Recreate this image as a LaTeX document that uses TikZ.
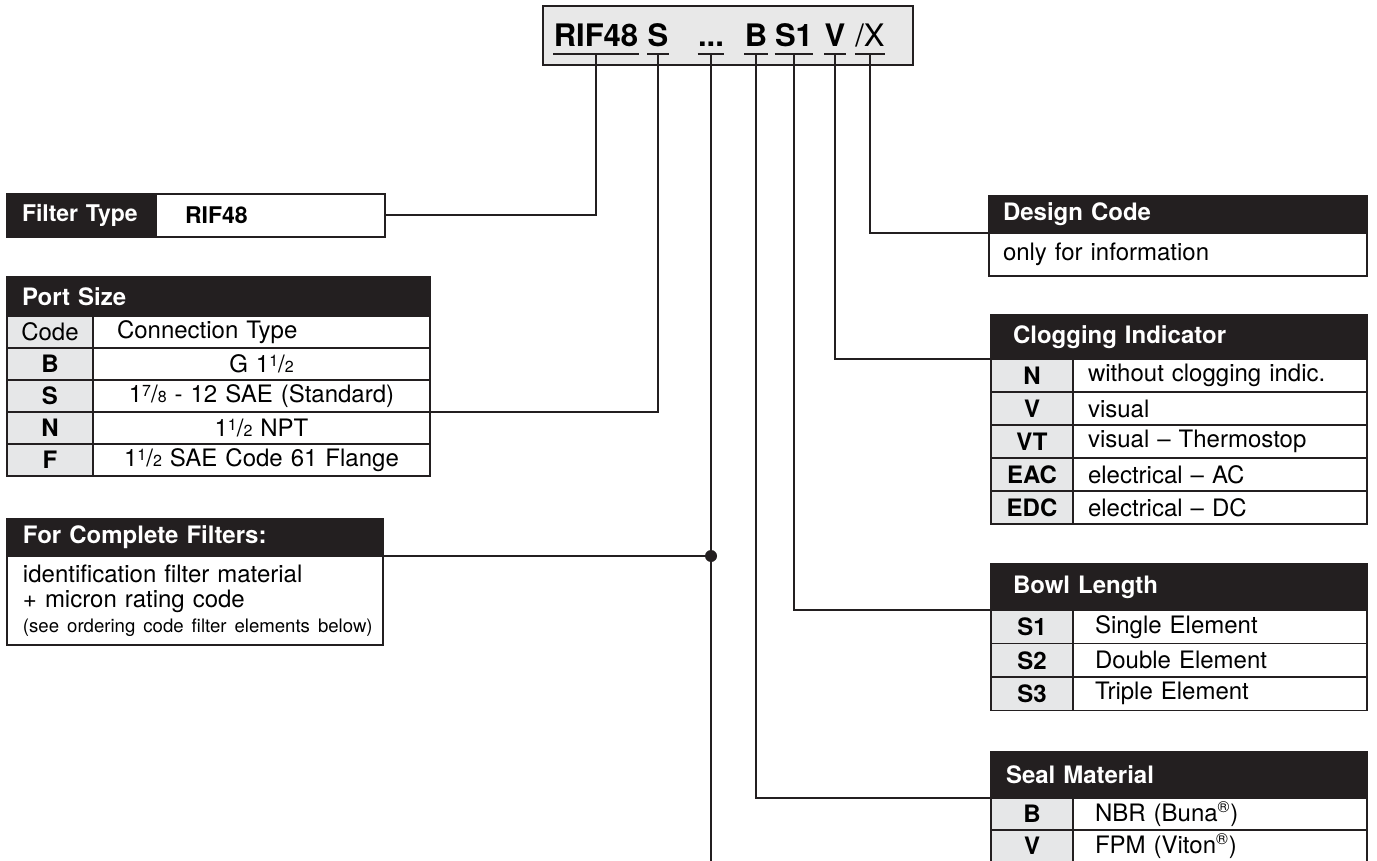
\documentclass[tikz,border=0pt]{standalone}
\usepackage{fontspec}
\setmainfont{TeX Gyre Heros}
\usetikzlibrary{positioning,calc}
\definecolor{inkdark}{HTML}{231F20}
\definecolor{cellgray}{HTML}{E6E7E8}
\definecolor{boxgray}{HTML}{E8E8E8}
\newcommand{\pfrac}[2]{{\fontsize{8}{9}\selectfont\raisebox{0.75ex}{#1}}/{\fontsize{8}{9}\selectfont#2}}
\tikzset{
	head/.style={
		rectangle,
		fill=inkdark,
		draw=inkdark,
		line width=0.9pt,
		text=white,
		font=\bfseries\fontsize{12}{14}\selectfont,
		anchor=north west,
		outer sep=0pt,
		inner xsep=#1,
		inner ysep=0pt,
		align=left,
	},
	head/.default=7.5pt,
	codecell/.style={
		rectangle,
		fill=cellgray,
		draw=inkdark,
		line width=0.9pt,
		font=\bfseries\fontsize{12}{14}\selectfont,
		anchor=north west,
		outer sep=0pt,
		inner sep=0pt,
	},
	txtcell/.style={
		rectangle,
		fill=white,
		draw=inkdark,
		line width=0.9pt,
		font=\fontsize{12}{14}\selectfont,
		anchor=north west,
		outer sep=0pt,
		inner xsep=#1,
		inner ysep=0pt,
		align=left,
	},
	txtcell/.default=7.5pt,
	codechar/.style={
		font=\bfseries\fontsize{15.5}{18}\selectfont,
		inner sep=0pt,
		anchor=base,
	},
	link/.style={
		draw=inkdark,
		line width=1pt,
	}
}
\begin{document}
\begin{tikzpicture}[x=0.5pt,y=-0.5pt]
\useasboundingbox (0,0) rectangle (1377,861);

% ordering code
\node[rectangle,draw=inkdark,fill=boxgray,line width=1pt,anchor=north west,
  outer sep=0pt,inner sep=0pt,minimum width=185pt,minimum height=29.5pt] (codebox) at (543,6) {};
\node[codechar] (cRIF) at (596,47) {RIF48};
\node[codechar] (cS) at (658,47) {S};
\node[codechar] (cDots) at (711,47) {...};
\node[codechar] (cB) at (756,47) {B};
\node[codechar] (cSi) at (794,47) {S1};
\node[codechar] (cV) at (835,47) {V};
\node[codechar,font=\fontsize{15.5}{18}\selectfont] (cX) at (870,47) {/X};
\foreach \c in {cRIF,cS,cDots,cB,cSi,cV,cX}
  \draw[link] ([yshift=-3.5pt]\c.base west) -- coordinate (u\c) ([yshift=-3.5pt]\c.base east);

% filter type
\node[head,font=\bfseries\fontsize{11.5}{14}\selectfont,text width=59.5pt,minimum height=21.5pt] (ftlab) at (7,194) {Filter Type};
\node[txtcell=14.5pt,font=\bfseries\fontsize{11.5}{14}\selectfont,text width=85.5pt,minimum height=21.5pt] (ftval) at (ftlab.north east) {RIF48};

% port size
\node[head,text width=196.5pt,minimum height=19.5pt] (pshead) at (7,277) {Port Size};
\node[codecell,font=\fontsize{12}{14}\selectfont,minimum width=43pt,minimum height=16pt] (ps0) at (pshead.south west) {Code};
\node[txtcell=12pt,text width=144.5pt,minimum height=16pt] (ps0t) at (ps0.north east) {Connection Type};
\foreach \code/\txt [count=\i] in {B/G 1\pfrac{1}{2},S/1\pfrac{7}{8} - 12 SAE (Standard),N/1\pfrac{1}{2} NPT,F/1\pfrac{1}{2} SAE Code 61 Flange}{
  \node[codecell,minimum width=43pt,minimum height=16pt] (ps\code) at ($(ps0.south west)+(0,{(\i-1)*32})$) {\code};
  \node[txtcell,align=center,text width=153.5pt,minimum height=16pt] (ps\code t) at (ps\code.north east) {\txt};
}

% complete filters
\node[head=8pt,text width=172pt,minimum height=18.5pt] (cfhead) at (7,519) {For Complete Filters:};
\node[txtcell=8pt,font=\fontsize{12}{12.5}\selectfont,text width=172pt,minimum height=44.5pt] (cfbody) at (cfhead.south west)
  {identification filter material\\+ micron rating code\\\mbox{\fontsize{9.3}{12.5}\selectfont(see ordering code filter elements below)}};

% design code
\node[head=7pt,text width=175pt,minimum height=18.5pt] (dchead) at (989,196) {Design Code};
\node[txtcell=7pt,text width=175pt,minimum height=21.5pt] (dcbody) at (dchead.south west) {only for information};

% clogging indicator
\node[head=11pt,text width=166pt,minimum height=22pt] (cihead) at (991,315) {Clogging Indicator};
\foreach \code/\txt [count=\i from 0] in {N/without clogging indic.,V/visual,VT/visual – Thermostop,EAC/electrical – AC,EDC/electrical – DC}{
  \node[codecell,minimum width=41pt,minimum height=16.5pt] (ci\code) at ($(cihead.south west)+(0,{\i*33})$) {\code};
  \node[txtcell,text width=132pt,minimum height=16.5pt] (ci\code t) at (ci\code.north east) {\txt};
}

% bowl length
\node[head=11pt,text width=166pt,minimum height=23pt] (blhead) at (991,564) {Bowl Length};
\foreach \code/\txt [count=\i from 0] in {S1/Single Element,S2/Double Element,S3/Triple Element}{
  \node[codecell,minimum width=41pt,minimum height=16.75pt] (bl\code) at ($(blhead.south west)+(0,{\i*33.5})$) {\code};
  \node[txtcell=11pt,text width=125pt,minimum height=16.75pt] (bl\code t) at (bl\code.north east) {\txt};
}

% seal material
\node[head,text width=173pt,minimum height=23pt] (smhead) at (991,752) {Seal Material};
\foreach \code/\txt [count=\i from 0] in {B/NBR (Buna\textsuperscript{®}),V/FPM (Viton\textsuperscript{®})}{
  \node[codecell,minimum width=41pt,minimum height=16pt] (sm\code) at ($(smhead.south west)+(0,{\i*32})$) {\code};
  \node[txtcell=11pt,text width=125pt,minimum height=16pt] (sm\code t) at (sm\code.north east) {\txt};
}

% links
\coordinate (dotsend) at (711,861);
\coordinate (junc) at (cfhead.south east -| ucDots);
\draw[link] (ucRIF) |- (ftval.east);
\draw[link] (ucS) |- (psSt.south east);
\draw[link] (ucDots) -- (dotsend);
\draw[link] (cfhead.south east) -- (junc);
\fill[inkdark] (junc) circle (3pt);
\draw[link] (ucB) |- (smhead.south west);
\draw[link] (ucSi) |- (blhead.south west);
\draw[link] (ucV) |- (cihead.south west);
\draw[link] (ucX) |- (dchead.south west);

\end{tikzpicture}
\end{document}
